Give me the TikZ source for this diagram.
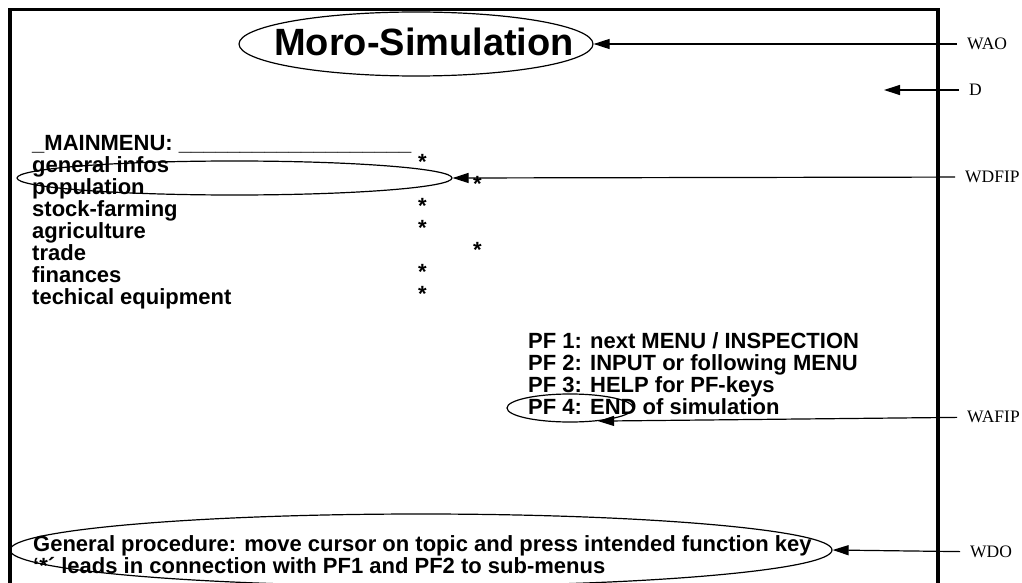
\documentclass[tikz,border=0pt]{standalone}
\usepackage{fontspec}
\newfontfamily\arialfont{Liberation Sans}
\newfontfamily\timesfont{Liberation Serif}
\usetikzlibrary{shapes.geometric, positioning, arrows.meta}

\begin{document}
\begin{tikzpicture}[x=1pt, y=-1pt]
    \tikzset{
        scr/.style={font=\arialfont\bfseries\fontsize{22}{24}\selectfont, anchor=base west, inner sep=0pt}, % text on the screen
        row/.style={below=22pt of #1.base west, anchor=base west}, % next line of a block
        oval/.style={draw, ellipse, line width=1.2pt, inner sep=0pt}, % the ellipses
        tag/.style={font=\timesfont\fontsize{17.5}{20}\selectfont, anchor=west, inner xsep=10pt, inner ysep=0pt}, % labels on the right
        ptr/.style={-{Triangle[length=16pt, width=10pt]}, line width=1.2pt},
    }
    \useasboundingbox (0,0) rectangle (1022,583);

    % screen frame
    \draw[line width=3.5pt] (10,583) -- (10,9.5) -- (938,9.5) -- (938,583);

    % title
    \node[font=\arialfont\bfseries\fontsize{38}{40}\selectfont, inner sep=0pt] (title) at (424,41.5) {Moro-Simulation};
    \node[oval, minimum width=354pt, minimum height=64pt] (titleoval) at (416,44) {};

    % main menu
    \node[scr] (mainmenu) at (32,150) {\_MAINMENU: \_\_\_\_\_\_\_\_\_\_\_\_\_\_\_\_\_\_\_};
    \node[scr, row=mainmenu] (infos) {general infos};
    \node[scr, row=infos] (population) {population};
    \node[scr, row=population] (farming) {stock-farming};
    \node[scr, row=farming] (agriculture) {agriculture};
    \node[scr, row=agriculture] (trade) {trade};
    \node[scr, row=trade] (finances) {finances};
    \node[scr, row=finances] (equipment) {techical equipment};
    \node[oval, minimum width=435pt, minimum height=34pt] (popoval) at (234.5,178) {};

    % stars
    \node[scr] (star1) at (418,169) {*};
    \node[scr] (star2) at (473,191) {*};
    \node[scr] (star3) at (418,213) {*};
    \node[scr] (star4) at (418,235) {*};
    \node[scr] (star5) at (473,257) {*};
    \node[scr] (star6) at (418,279) {*};
    \node[scr] (star7) at (418,301) {*};

    % function keys
    \node[scr] (pf1) at (528,348) {PF 1: next MENU / INSPECTION};
    \node[scr, row=pf1] (pf2) {PF 2: INPUT or following MENU};
    \node[scr, row=pf2] (pf3) {PF 3: HELP for PF-keys};
    \node[scr, row=pf3] (pf4) {PF 4: END of simulation};
    \node[oval, minimum width=126pt, minimum height=28pt] (pfoval) at (570,408) {};

    % procedure
    \node[scr] (procedure) at (33,551) {General procedure: move cursor on topic and press intended function key};
    \node[scr, row=procedure] (hint) {‘*´ leads in connection with PF1 and PF2 to sub-menus};
    \node[oval, minimum width=822pt, minimum height=72pt] (procoval) at (421,550) {};

    % labels
    \node[tag] (wao) at (957,44) {WAO};
    \node[tag] (d) at (959,90) {D};
    \node[tag] (wdfip) at (955,177) {WDFIP};
    \node[tag] (wafip) at (957,417) {WAFIP};
    \node[tag] (wdo) at (960,552) {WDO};
    \coordinate (dtip) at (884,90);

    % pointers
    \draw[ptr] (wao) -- (titleoval);
    \draw[ptr] (d) -- (dtip);
    \draw[ptr] (wdfip) -- (popoval.east);
    \draw[ptr] (wafip) -- (pfoval.-25);
    \draw[ptr] (wdo) -- (procoval.east);
\end{tikzpicture}
\end{document}
